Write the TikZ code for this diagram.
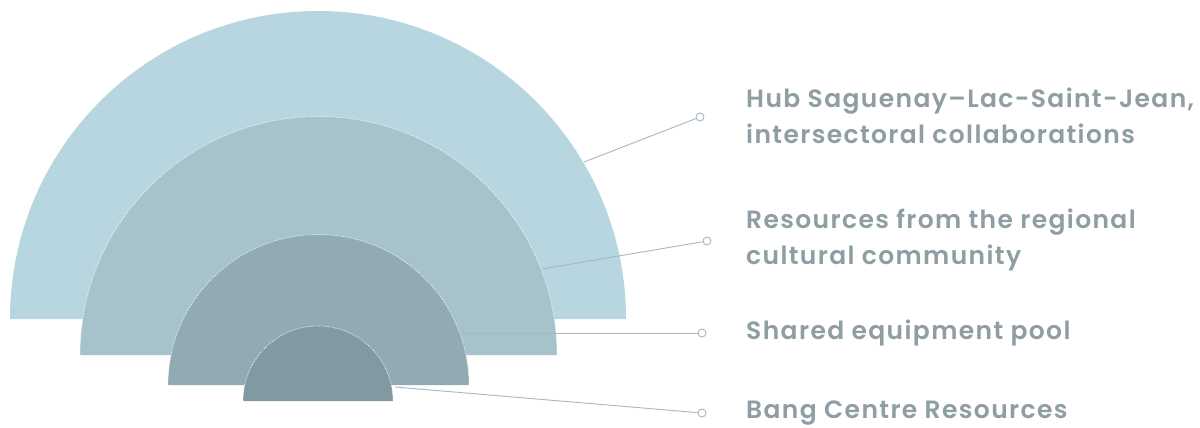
\documentclass[tikz,border=0pt]{standalone}
\usepackage{fontspec}
\setmainfont{Poppins}[UprightFont={Poppins SemiBold}, LetterSpace=5.5]
\definecolor{c1}{HTML}{B8D6E0}
\definecolor{c2}{HTML}{A6C2CB}
\definecolor{c3}{HTML}{92AAB1}
\definecolor{c4}{HTML}{819AA1}
\definecolor{txt}{HTML}{8E9EA3}
\definecolor{lead}{HTML}{A3B9C1}
\tikzset{
  band/.style={fill=#1},
  rim/.style={draw=white, densely dotted, line width=0.8pt, draw opacity=0.85},
  leader/.style={draw=lead, line width=0.9pt},
  endring/.style={circle, draw=lead, fill=white, line width=0.9pt, minimum size=8pt, inner sep=0pt},
  label/.style={anchor=base west, inner sep=0pt, align=left, text=txt, font=\fontsize{25}{36}\selectfont}
}
\begin{document}
\begin{tikzpicture}[x=1pt,y=-1pt]
\useasboundingbox[fill=white] (0,0) rectangle (1200,428);
% bands (semicircles)
\fill[band=c1] (10,319) arc[start angle=180, end angle=360, radius=308] -- cycle;
\fill[band=c2] (80,355) arc[start angle=180, end angle=360, radius=238.5] -- cycle;
\draw[rim] (80,355) arc[start angle=180, end angle=360, radius=238.5];
\fill[band=c3] (168,385) arc[start angle=180, end angle=360, radius=150.5] -- cycle;
\draw[rim] (168,385) arc[start angle=180, end angle=360, radius=150.5];
\fill[band=c4] (243,401) arc[start angle=180, end angle=360, radius=75] -- cycle;
\draw[rim] (243,401) arc[start angle=180, end angle=360, radius=75];
% leader start points on the arcs
\coordinate (s1) at (584,162);
\coordinate (s2) at (542,269);
\coordinate (s3) at (460,333);
\coordinate (s4) at (395,387);
% end rings
\node[endring] (e1) at (700,117) {};
\node[endring] (e2) at (707,241) {};
\node[endring] (e3) at (702,333) {};
\node[endring] (e4) at (702,413) {};
\draw[leader] (s1) -- (e1);
\draw[leader] (s2) -- (e2);
\draw[leader] (s3) -- (e3);
\draw[leader] (s4) -- (e4);
% labels (base anchor = last line)
\node[label] (t1) at (746,143) {Hub Saguenay–Lac-Saint-Jean,\\intersectoral collaborations};
\node[label] (t2) at (746,264) {Resources from the regional\\cultural community};
\node[label] (t3) at (746,339) {Shared equipment pool};
\node[label] (t4) at (746,418) {Bang Centre Resources};
\end{tikzpicture}
\end{document}
